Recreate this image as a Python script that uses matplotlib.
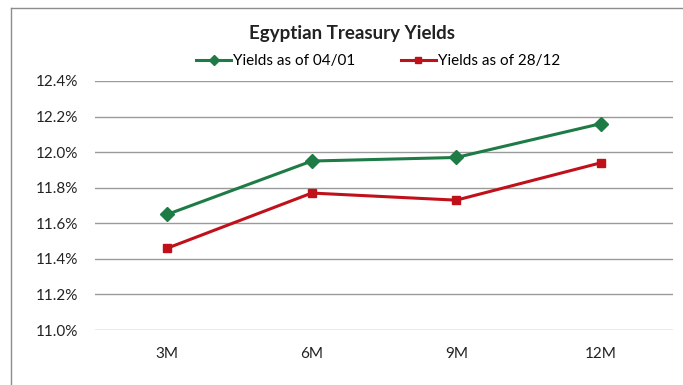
import numpy as np
import matplotlib.pyplot as plt
from matplotlib.ticker import FuncFormatter

plt.rcParams['font.family'] = ['Lato', 'DejaVu Sans']

# data
tenors = ['3M', '6M', '9M', '12M']
yields_0401 = [11.65, 11.95, 11.97, 12.16]
yields_2812 = [11.46, 11.77, 11.73, 11.94]
y_ticks = [11.0, 11.2, 11.4, 11.6, 11.8, 12.0, 12.2, 12.4]

GREEN = '#1e7b45'
RED = '#c0111a'

fig = plt.figure(figsize=(6.83, 3.85), dpi=100)
ax = fig.add_axes([95 / 683, 1 - 330 / 385, 578 / 683, 249 / 385])

x = np.arange(len(tenors))
ax.plot(x, yields_0401, color=GREEN, lw=2.2, marker='D', ms=7,
        label='Yields as of 04/01')
ax.plot(x, yields_2812, color=RED, lw=2.2, marker='s', ms=6,
        label='Yields as of 28/12')

ax.set_xlim(-0.5, len(tenors) - 0.5)
ax.set_ylim(11.0, 12.4)
ax.set_yticks(y_ticks)
ax.yaxis.set_major_formatter(FuncFormatter(lambda v, p: '{:.1f}%'.format(v)))
ax.set_xticks(x)
ax.set_xticklabels(tenors)
ax.tick_params(axis='both', length=0, labelsize=11, colors='#222222')
ax.tick_params(axis='y', pad=12)
ax.tick_params(axis='x', pad=12)
ax.grid(axis='y', color='#9a9a9a', lw=1)
ax.set_axisbelow(True)
for s in ax.spines.values():
    s.set_visible(False)

fig.text(352 / 683, 1 - 33 / 385, 'Egyptian Treasury Yields', ha='center', va='center',
         fontsize=13.5, fontweight='bold', color='#222222')
fig.legend(loc='center', bbox_to_anchor=(378 / 683, 1 - 61 / 385), ncol=2, frameon=False,
           fontsize=11, handlelength=2.3, handletextpad=0.1, columnspacing=3.0,
           markerscale=0.8, borderaxespad=0)

# chart border (left and top visible)
fig.add_artist(plt.Line2D([11 / 683, 11 / 683], [0, 1 - 8 / 385], color='#8c8c8c', lw=1,
                          transform=fig.transFigure))
fig.add_artist(plt.Line2D([11 / 683, 1], [1 - 8 / 385, 1 - 8 / 385], color='#8c8c8c', lw=1,
                          transform=fig.transFigure))

fig.savefig('out.png', dpi=100)
